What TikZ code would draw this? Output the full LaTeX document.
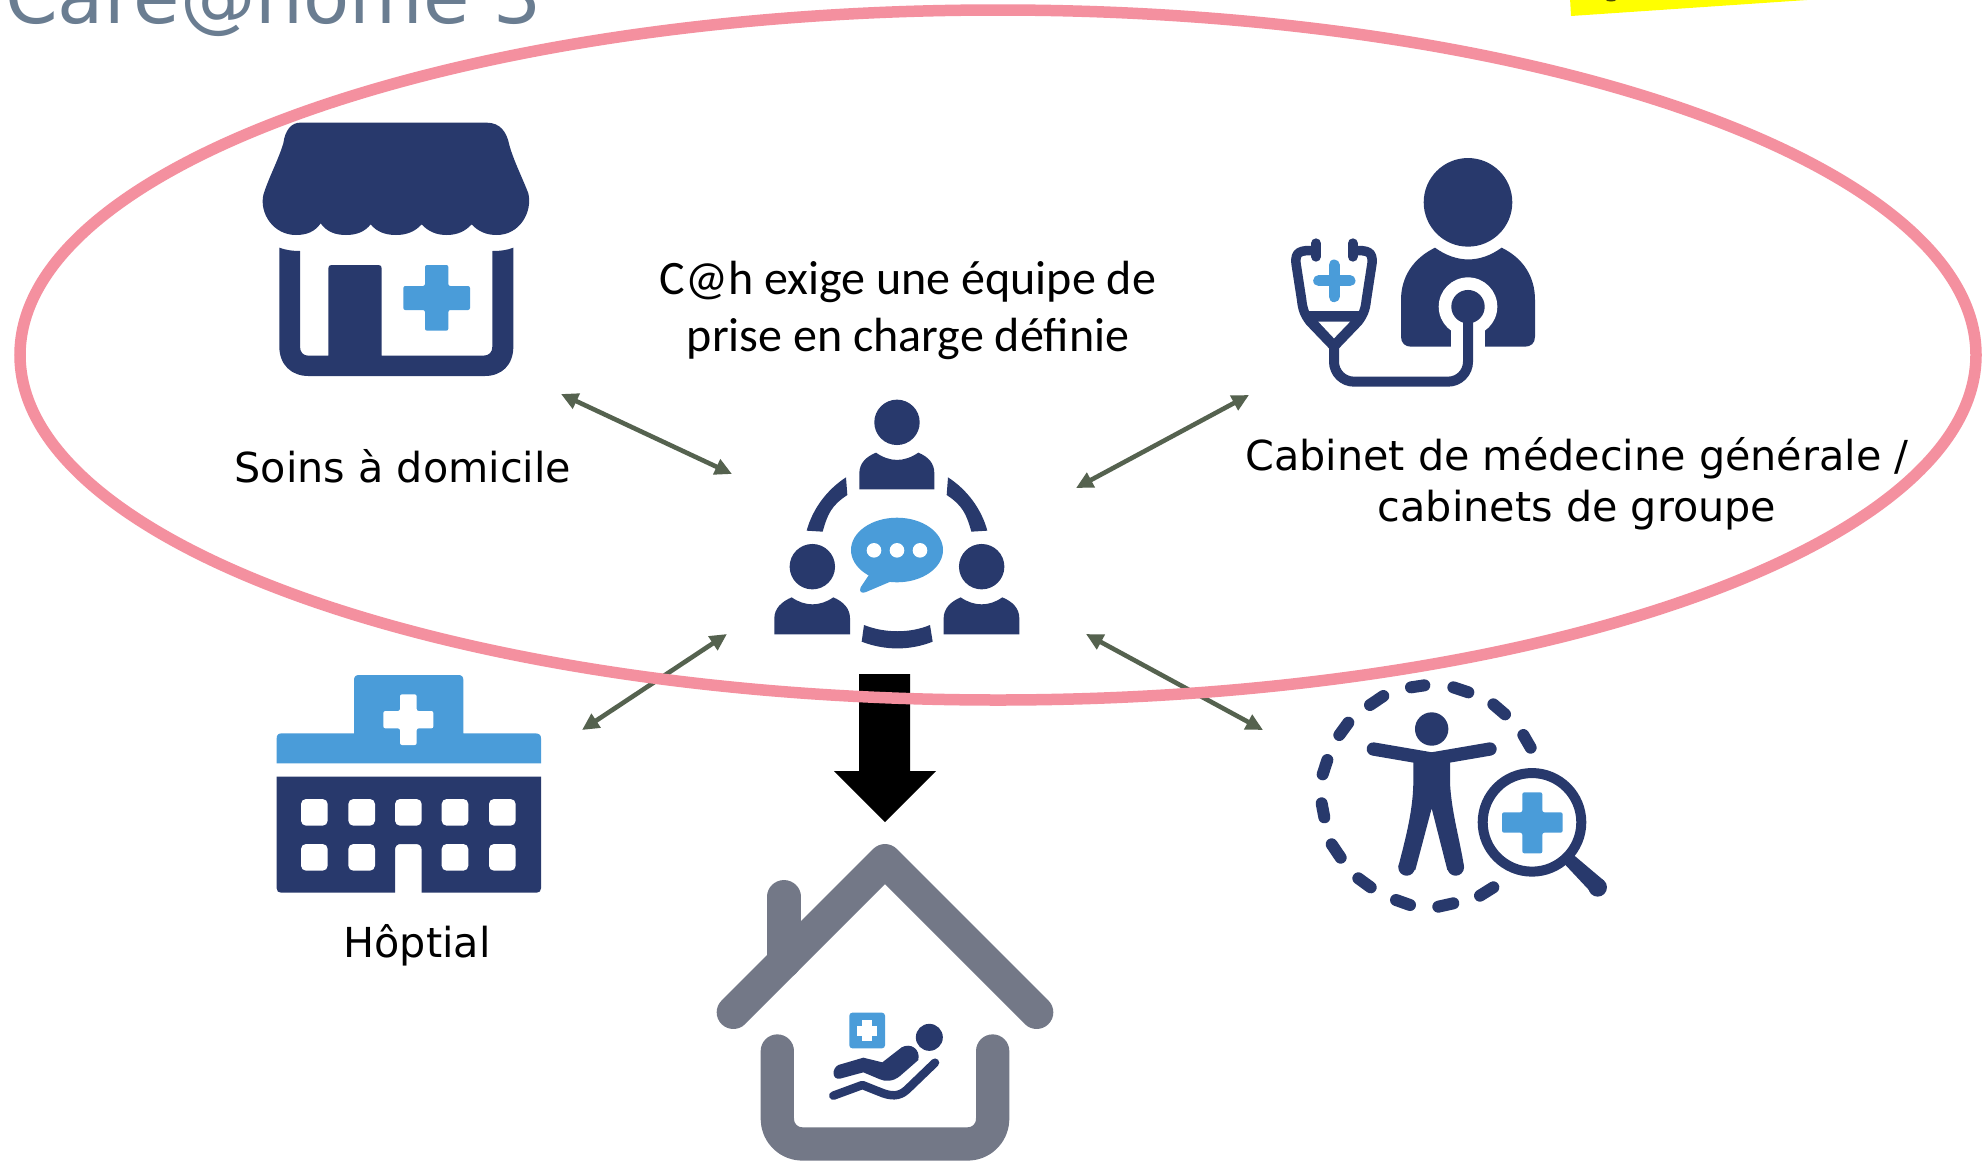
\documentclass[tikz,border=0pt]{standalone}
\usepackage{fontspec}
\setmainfont{DejaVu Sans}
\newfontfamily\calfont{Carlito}
\usetikzlibrary{arrows.meta}
\definecolor{navy}{HTML}{28396C}
\definecolor{sky}{HTML}{4A9CD9}
\definecolor{ring}{HTML}{F4909F}
\definecolor{slate}{HTML}{6A7D91}
\definecolor{roofgray}{HTML}{737887}
\definecolor{linkgreen}{HTML}{55624F}
\definecolor{marker}{RGB}{255,255,0}
\tikzset{
  zm/.style n args={2}{shift={(#1,#2)},x=0.33333pt,y=-0.33333pt},
  navyfill/.style={fill=navy,draw=none},
  skyfill/.style={fill=sky,draw=none},
  whitefill/.style={fill=white,draw=none},
  link/.style={draw=linkgreen,line width=4.6pt,{Triangle[length=17pt,width=16pt]}-{Triangle[length=17pt,width=16pt]}},
  label/.style={inner sep=0pt,anchor=base,font=\fontsize{41.3}{48}\selectfont,text=black},
  callabel/.style={inner sep=0pt,anchor=base,font=\calfont\fontsize{48}{54}\selectfont,text=black},
  dashseg/.style={draw=navy,line width=12pt,line cap=round},
  wall/.style={draw=roofgray,line width=33.3pt,line cap=round,line join=round},
  win/.style={fill=white,draw=none,rounded corners=5pt},
}
\begin{document}
\begin{tikzpicture}[x=1pt,y=-1pt]
\useasboundingbox (0,0) rectangle (1987,1160);
\clip (0,0) rectangle (1987,1160);
\fill[white] (0,0) rectangle (1987,1160);

% title and yellow fragment
\node[inner sep=0pt,anchor=base west,text=slate,font=\fontsize{75.5}{80}\selectfont] (title) at (5,23) {Care@home 3};
\fill[marker] (1570,-2) -- (1571,16) -- (1807,0) -- (1807,-2) -- cycle;
\fill[black!70!marker] (1611,0) ellipse (5pt and 1.5pt);

% connector ends
\coordinate (shopend) at (561,394);
\coordinate (teamA) at (732,474);
\coordinate (doctorend) at (1249,395);
\coordinate (teamB) at (1076,488);
\coordinate (teamC) at (727,634);
\coordinate (hospitalend) at (582,730);
\coordinate (teamD) at (1086,634);
\coordinate (checkend) at (1263,730);
\draw[link] (shopend) -- (teamA);
\draw[link] (doctorend) -- (teamB);
\draw[link] (teamC) -- (hospitalend);
\draw[link] (teamD) -- (checkend);

% big arrow
\fill[black] (859,674) -- (859,771) -- (834,771) -- (885,822) -- (936,771) -- (910,771) -- (910,674) -- cycle;

% ellipse
\draw[ring,line width=11.5pt] (998,355) ellipse (978pt and 345pt);

% shop
\begin{scope}[zm={230}{100}]
\path[navyfill] (210,68) -- (770,68) .. controls (810,68) and (830,95) .. (838,135)
 .. controls (850,180) and (880,240) .. (895,280) .. controls (908,335) and (870,405) .. (800,405)
 .. controls (770,405) and (745,395) .. (725,373) .. controls (705,395) and (680,405) .. (650,405)
 .. controls (620,405) and (595,395) .. (575,373) .. controls (555,395) and (530,405) .. (498,405)
 .. controls (465,405) and (440,395) .. (422,373) .. controls (405,395) and (380,405) .. (348,405)
 .. controls (315,405) and (290,395) .. (272,370) .. controls (255,395) and (230,405) .. (198,405)
 .. controls (130,405) and (88,340) .. (100,285) .. controls (115,235) and (145,180) .. (160,130)
 .. controls (165,90) and (185,68) .. (210,68) -- cycle;
\path[navyfill] (148,443) .. controls (170,451) and (190,453) .. (210,453) -- (210,740)
 .. controls (210,757) and (220,767) .. (235,767) -- (295,767) -- (295,505)
 .. controls (295,498) and (298,495) .. (305,495) -- (445,495)
 .. controls (452,495) and (455,498) .. (455,505) -- (455,767) -- (760,767)
 .. controls (777,767) and (787,757) .. (787,740) -- (787,453)
 .. controls (810,453) and (830,451) .. (850,443) -- (850,740)
 .. controls (850,795) and (815,828) .. (765,828) -- (235,828)
 .. controls (185,828) and (148,795) .. (148,740) -- cycle;
\path[skyfill,rounded corners=2pt] (585,495) -- (655,495) -- (655,558) -- (720,558) -- (720,630) -- (655,630) -- (655,692) -- (585,692) -- (585,630) -- (520,630) -- (520,558) -- (585,558) -- cycle;
\end{scope}

% doctor
\begin{scope}[zm={1260}{140}]
\path[navyfill] (624,187) circle (44.3pt);
\path[navyfill] (525,323) .. controls (590,370) and (660,370) .. (725,323)
 .. controls (790,355) and (825,410) .. (825,480) -- (825,590)
 .. controls (825,610) and (812,620) .. (795,620) -- (453,620)
 .. controls (436,620) and (423,610) .. (423,590) -- (423,480)
 .. controls (423,410) and (460,355) .. (525,323) -- cycle;
\path[whitefill] (624,500) circle (29.3pt);
\path[whitefill] (573,550) rectangle (675,625);
\path[navyfill] (624,500) circle (16.7pt);
\draw[navy,line width=10pt,rounded corners=20pt] (624,530) -- (624,725) -- (222,725) -- (222,610);
\draw[navy,line width=9.5pt,line join=round] (165,332) .. controls (120,330) and (105,335) .. (108,370) -- (125,480) .. controls (128,510) and (135,525) .. (150,545) -- (222,620) -- (294,545) .. controls (309,525) and (316,510) .. (319,480) -- (336,370) .. controls (339,335) and (324,330) .. (279,332);
\path[navyfill] (135,513) -- (312,513) -- (222,622) -- cycle;
\path[whitefill] (175,545) -- (270,545) -- (222,595) -- cycle;
\draw[navy,line width=10pt,line cap=round] (168,310) -- (168,350);
\draw[navy,line width=10pt,line cap=round] (278,310) -- (278,350);
\draw[sky,line width=11pt,line cap=round] (222,375) -- (222,470);
\draw[sky,line width=11pt,line cap=round] (176,422) -- (270,422);
\end{scope}

% team
\begin{scope}[zm={750}{380}]
\path[navyfill] (441,127) circle (22.7pt);
\path[navyfill] (378,218) .. controls (420,247) and (462,247) .. (505,218) .. controls (535,230) and (553,250) .. (553,280) -- (553,328) -- (328,328) -- (328,280) .. controls (328,250) and (348,230) .. (378,218) -- cycle;
\path[navyfill] (187,560) circle (22.7pt);
\path[navyfill] (125,652) .. controls (165,680) and (210,680) .. (250,652) .. controls (280,665) and (300,685) .. (300,715) -- (300,763) -- (73,763) -- (73,715) .. controls (73,685) and (95,665) .. (125,652) -- cycle;
\path[navyfill] (695,560) circle (22.7pt);
\path[navyfill] (632,652) .. controls (672,680) and (718,680) .. (757,652) .. controls (788,665) and (808,685) .. (808,715) -- (808,763) -- (581,763) -- (581,715) .. controls (581,685) and (602,665) .. (632,652) -- cycle;
\path[navyfill] (288,292) .. controls (231,329) and (188,386) .. (170,452) -- (218,455) .. controls (233,401) and (245,376) .. (292,345) -- cycle;
\path[navyfill] (594,292) .. controls (651,329) and (694,386) .. (712,452) -- (664,455) .. controls (649,401) and (637,376) .. (590,345) -- cycle;
\path[navyfill] (342,735) .. controls (405,760) and (480,760) .. (540,735) -- (548,785) .. controls (480,812) and (405,812) .. (335,785) -- cycle;
\path[skyfill] (441,510) ellipse (46pt and 32.3pt);
\path[skyfill] (360,580) -- (332,622) .. controls (326,635) and (335,642) .. (348,636) -- (440,597) -- cycle;
\path[whitefill] (372,511) circle (7.3pt);
\path[whitefill] (441,511) circle (7.3pt);
\path[whitefill] (510,511) circle (7.3pt);
\end{scope}

% hospital
\begin{scope}[zm={260}{660}]
\path[skyfill] (50,310) -- (50,235) .. controls (50,225) and (55,220) .. (65,220) -- (282,220) -- (282,60) .. controls (282,50) and (287,45) .. (297,45) -- (595,45) .. controls (605,45) and (610,50) .. (610,60) -- (610,220) -- (825,220) .. controls (838,220) and (843,225) .. (843,235) -- (843,310) -- cycle;
\path[whitefill,rounded corners=2pt] (420,103) -- (470,103) -- (470,153) -- (520,153) -- (520,205) -- (470,205) -- (470,255) -- (420,255) -- (420,205) -- (370,205) -- (370,153) -- (420,153) -- cycle;
\path[navyfill] (50,350) -- (843,350) -- (843,685) .. controls (843,693) and (838,698) .. (830,698) -- (485,698) -- (485,570) .. controls (485,558) and (478,552) .. (468,552) -- (422,552) .. controls (412,552) and (405,558) .. (405,570) -- (405,698) -- (63,698) .. controls (55,698) and (50,693) .. (50,685) -- cycle;
\foreach \cx in {123,265,405,545,687} {\path[win] (\cx,417) rectangle ++(80,80);}
\foreach \cx in {123,265,545,687} {\path[win] (\cx,552) rectangle ++(80,80);}
\end{scope}

% body check
\begin{scope}[zm={1290}{670}]
\foreach \ax/\ay/\bx/\by in {363/52/403/46,490/52/535/67,610/103/645/133,700/195/722/233,570/677/610/652,445/710/490/700,318/690/360/705,205/625/242/652,125/523/152/563,95/400/103/442,112/270/98/313,175/158/148/195,280/78/240/105}
  {\draw[dashseg] (\ax,\ay) -- (\bx,\by);}
\path[navyfill] (425,177) circle (16.7pt);
\draw[navy,line width=13.3pt,line cap=round] (250,237) -- (425,267);
\draw[navy,line width=13.3pt,line cap=round] (600,237) -- (425,267);
\path[navyfill] (370,265) -- (480,265) -- (480,340) .. controls (485,430) and (510,510) .. (522,590) -- (472,600) -- (425,415) -- (376,600) -- (325,590) .. controls (345,510) and (368,430) .. (370,340) -- cycle;
\path[navyfill] (497,592) circle (8.4pt);
\path[navyfill] (350,592) circle (8.4pt);
\draw[navy,line width=10pt] (726,457) circle (49.3pt);
\path[navyfill] (845,550) -- (942,632) -- (908,672) -- (820,578) -- cycle;
\path[navyfill] (923,652) circle (9.3pt);
\path[skyfill,rounded corners=2pt] (697,367) -- (757,367) -- (757,427) -- (818,427) -- (818,488) -- (757,488) -- (757,550) -- (697,550) -- (697,488) -- (636,488) -- (636,427) -- (697,427) -- cycle;
\end{scope}

% home
\begin{scope}[zm={700}{830}]
\draw[wall] (252,200) -- (252,395);
\draw[wall] (100,547) -- (555,92) -- (1010,547);
\draw[wall,rounded corners=25pt] (232,663) -- (232,942) -- (878,942) -- (878,663);
\path[skyfill,rounded corners=3pt] (448,548) rectangle (555,655);
\path[whitefill] (487,570) rectangle (517,632);
\path[whitefill] (470,588) rectangle (532,618);
\path[navyfill] (688,622) circle (13.5pt);
\path[navyfill] (415,705) -- (490,683) -- (547,697) -- (605,652) .. controls (630,638) and (662,655) .. (655,690) -- (600,738) .. controls (580,755) and (555,755) .. (540,748) -- (490,727) -- (420,746) .. controls (395,750) and (395,715) .. (415,705) -- cycle;
\draw[navy,line width=8.5pt,line cap=round,line join=round] (400,797) -- (487,765) -- (550,790) .. controls (585,802) and (605,795) .. (625,775) -- (705,698);
\end{scope}

% labels
\node[callabel] (lteam1) at (908,294) {C@h exige une équipe de};
\node[callabel] (lteam2) at (908,351) {prise en charge définie};
\node[label] (lshop) at (403,482) {Soins à domicile};
\node[label] (ldoc1) at (1577,470) {Cabinet de médecine générale /};
\node[label] (ldoc2) at (1577,521) {cabinets de groupe};
\node[label] (lhosp) at (417,957) {Hôptial};
\end{tikzpicture}
\end{document}
